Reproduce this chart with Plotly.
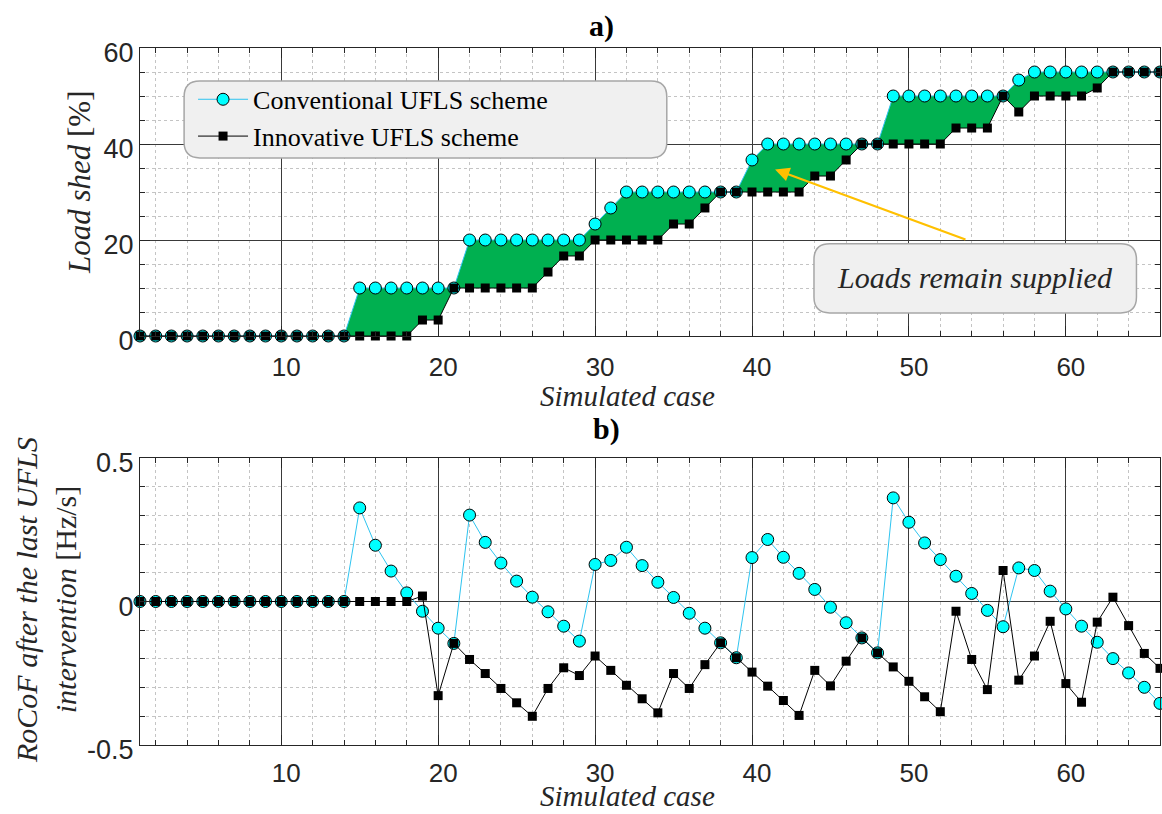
import plotly.graph_objects as go

# ---------------- data ----------------
cases = list(range(1, 67))

conv_shed = ([0] * 14 + [10] * 7 + [20] * 8 + [23.33, 26.67] + [30] * 8 + [36.67]
             + [40] * 8 + [50] * 8 + [53.33] + [55] * 9)
innov_shed = ([0] * 18 + [3.33] * 2 + [10] * 6 + [13.33] + [16.67] * 2 + [20] * 5
              + [23.33] * 2 + [26.67] + [30] * 6 + [33.33] * 2 + [36.67] + [40] * 6
              + [43.33] * 3 + [50] + [46.67] + [50] * 4 + [51.67] + [55] * 4)

conv_rocof = [0] * 14 + [
    0.326, 0.196, 0.106, 0.030, -0.034, -0.093, -0.146, 0.301, 0.206, 0.134,
    0.071, 0.015, -0.036, -0.086, -0.138, 0.129, 0.143, 0.189, 0.125, 0.067,
    0.014, -0.041, -0.093, -0.144, -0.196, 0.153, 0.216, 0.154, 0.098, 0.042,
    -0.020, -0.074, -0.127, -0.179, 0.361, 0.276, 0.204, 0.146, 0.088, 0.028,
    -0.031, -0.088, 0.117, 0.108, 0.036, -0.026, -0.086, -0.142, -0.199, -0.249,
    -0.299, -0.355]
innov_rocof = [0] * 18 + [
    0.019, -0.328, -0.146, -0.202, -0.251, -0.303, -0.353, -0.400, -0.303, -0.231,
    -0.258, -0.190, -0.240, -0.292, -0.339, -0.388, -0.251, -0.303, -0.220, -0.144,
    -0.196, -0.246, -0.295, -0.345, -0.397, -0.240, -0.294, -0.208, -0.127, -0.179,
    -0.228, -0.278, -0.332, -0.384, -0.034, -0.202, -0.307, 0.108, -0.274, -0.190,
    -0.069, -0.286, -0.351, -0.072, 0.015, -0.084, -0.181, -0.233]

series_names = ["Conventional UFLS scheme", "Innovative UFLS scheme"]
x_ticks = [10, 20, 30, 40, 50, 60]
ya_ticks = [0, 20, 40, 60]
yb_tickvals = [-0.5, 0, 0.5]
yb_ticktext = ["-0.5", "0", "0.5"]

# ---------------- style ----------------
SERIF = "Liberation Serif, Times New Roman, serif"
SANS = "Liberation Sans, Arial, sans-serif"
TXT = "#262626"
CYAN_LINE = "#2EC4F0"
GREEN = "#00B050"

fig = go.Figure()

# green band between the two schemes (panel a)
fig.add_trace(go.Scatter(x=cases, y=innov_shed, mode="lines", line=dict(width=0),
                         showlegend=False, hoverinfo="skip", xaxis="x", yaxis="y"))
fig.add_trace(go.Scatter(x=cases, y=conv_shed, mode="lines", line=dict(width=0),
                         fill="tonexty", fillcolor=GREEN, showlegend=False,
                         hoverinfo="skip", xaxis="x", yaxis="y"))

conv_style = dict(mode="lines+markers", line=dict(color=CYAN_LINE, width=1),
                  marker=dict(symbol="circle", size=12, color="#00FFFF",
                              line=dict(color="black", width=1)),
                  cliponaxis=False)
innov_style = dict(mode="lines+markers", line=dict(color="black", width=1),
                   marker=dict(symbol="square", size=9, color="black",
                               line=dict(color="black", width=0)),
                   cliponaxis=False)

fig.add_trace(go.Scatter(x=cases, y=conv_shed, name=series_names[0],
                         xaxis="x", yaxis="y", **conv_style))
fig.add_trace(go.Scatter(x=cases, y=innov_shed, name=series_names[1],
                         xaxis="x", yaxis="y", **innov_style))
fig.add_trace(go.Scatter(x=cases, y=conv_rocof, name=series_names[0], showlegend=False,
                         xaxis="x2", yaxis="y2", **conv_style))
fig.add_trace(go.Scatter(x=cases, y=innov_rocof, name=series_names[1], showlegend=False,
                         xaxis="x2", yaxis="y2", **innov_style))

common_x = dict(range=[1, 66], tickvals=x_ticks, ticks="inside", ticklen=10,
                tickcolor=TXT, showline=True, linecolor=TXT, linewidth=1,
                mirror="allticks", showgrid=True, gridcolor="#3a3a3a", gridwidth=1,
                zeroline=False, tickfont=dict(family=SANS, size=26, color=TXT),
                ticklabelshift=5,
                minor=dict(dtick=2, tick0=0, ticks="inside", ticklen=5, tickcolor=TXT,
                           showgrid=True, gridcolor="#c4c4c4", griddash="dot",
                           gridwidth=1))
common_y = dict(ticks="inside", ticklen=10, tickcolor=TXT, showline=True,
                linecolor=TXT, linewidth=1, mirror="allticks", showgrid=True,
                gridcolor="#3a3a3a", gridwidth=1, zeroline=False,
                tickfont=dict(family=SANS, size=27, color=TXT), ticklabelshift=5)

fig.update_layout(
    width=1162, height=814,
    margin=dict(l=140, r=2, t=48, b=69),
    plot_bgcolor="white", paper_bgcolor="white",
    xaxis=dict(domain=[0, 1], anchor="y", ticklabelstandoff=8, **common_x),
    xaxis2=dict(domain=[0, 1], anchor="y2", ticklabelstandoff=5, **common_x),
    yaxis=dict(domain=[0.5868, 1], anchor="x", range=[0, 60], tickvals=ya_ticks,
               minor=dict(dtick=5, tick0=0, ticks="inside", ticklen=5, tickcolor=TXT,
                          showgrid=True, gridcolor="#c4c4c4", griddash="dot"),
               **common_y),
    yaxis2=dict(domain=[0, 0.4118], anchor="x2", range=[-0.5, 0.5],
                tickvals=yb_tickvals, ticktext=yb_ticktext,
                minor=dict(dtick=0.1, tick0=0, ticks="inside", ticklen=5, tickcolor=TXT,
                           showgrid=True, gridcolor="#c4c4c4", griddash="dot"),
                **common_y),
    legend=dict(x=0.052, y=0.960, xanchor="left", yanchor="top",
                bgcolor="rgba(0,0,0,0)", borderwidth=0, itemwidth=50,
                traceorder="normal",
                font=dict(family=SERIF, size=26, color="black"),
                tracegroupgap=0),
    showlegend=True,
)


def rounded_box(x0, x1, y0, y1, rx, ry):
    return (f"M {x0+rx},{y1} L {x1-rx},{y1} Q {x1},{y1} {x1},{y1-ry} "
            f"L {x1},{y0+ry} Q {x1},{y0} {x1-rx},{y0} L {x0+rx},{y0} "
            f"Q {x0},{y0} {x0},{y0+ry} L {x0},{y1-ry} Q {x0},{y1} {x0+rx},{y1} Z")


box_style = dict(type="path", xref="x", yref="y", fillcolor="#F0F0F0",
                 line=dict(color="#A6A6A6", width=1.5), layer="above")
fig.add_shape(path=rounded_box(3.81, 34.57, 37.1, 53.1, 1.0, 3.3), **box_style)
fig.add_shape(path=rounded_box(43.95, 64.5, 4.8, 19.2, 1.0, 3.3), **box_style)

center = dict(xanchor="center", yanchor="middle", showarrow=False)
annotations = [
    dict(text="<b>a)</b>", x=0.452, y=1.0316, xref="paper", yref="paper",
         font=dict(family=SERIF, size=30, color="black"), **center),
    dict(text="<b>b)</b>", x=0.457, y=0.4534, xref="paper", yref="paper",
         font=dict(family=SERIF, size=30, color="black"), **center),
    dict(text="<i>Simulated case</i>", x=0.478, y=0.501, xref="paper", yref="paper",
         font=dict(family=SERIF, size=29, color=TXT), **center),
    dict(text="<i>Simulated case</i>", x=0.478, y=-0.0985, xref="paper", yref="paper",
         xanchor="center", yanchor="bottom", showarrow=False,
         font=dict(family=SERIF, size=29, color=TXT)),
    dict(text="<i>Load shed</i> [%]", x=-0.0598, y=0.8077, xref="paper", yref="paper",
         textangle=-90, font=dict(family=SERIF, size=31, color=TXT), **center),
    dict(text="<i>RoCoF after the last UFLS</i><br><i>intervention</i> [Hz/s]",
         x=-0.0922, y=0.208, xref="paper", yref="paper", textangle=-90,
         font=dict(family=SERIF, size=30, color=TXT), **center),
    dict(text="<i>Loads remain supplied</i>", x=54.2, y=12.1, xref="x", yref="y",
         font=dict(family=SERIF, size=30, color=TXT), **center),
    dict(text="", x=41.47, y=34.7, xref="x", yref="y", ax=53.7, ay=20,
         axref="x", ayref="y", showarrow=True, arrowhead=2, arrowsize=1.3,
         arrowwidth=2.2, arrowcolor="#FFC000"),
]
fig.update_layout(annotations=annotations)

fig.write_html("out.html")
